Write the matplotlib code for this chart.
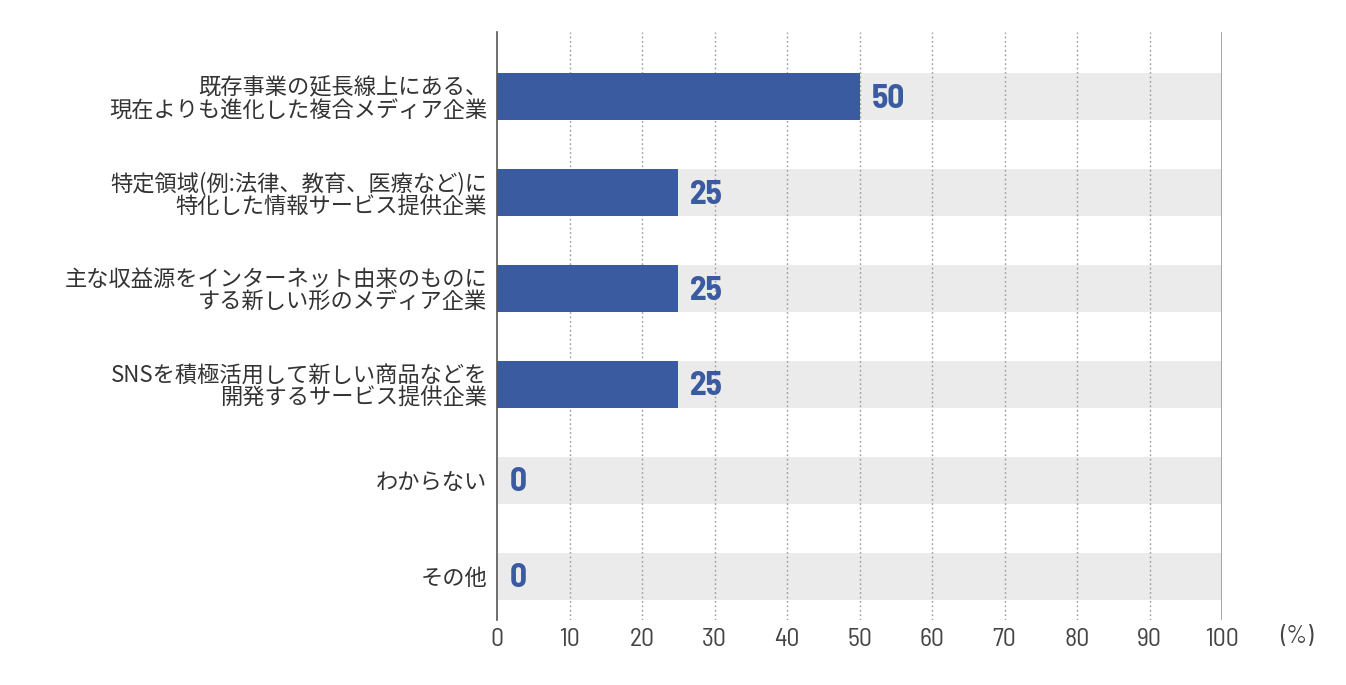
import matplotlib
matplotlib.use("Agg")
import matplotlib.pyplot as plt
from matplotlib import font_manager as fm

plt.rcParams['font.family'] = ['Noto Sans CJK JP', 'DejaVu Sans']

categories = [
    "既存事業の延長線上にある、\n現在よりも進化した複合メディア企業",
    "特定領域(例:法律、教育、医療など)に\n特化した情報サービス提供企業",
    "主な収益源をインターネット由来のものに\nする新しい形のメディア企業",
    "SNSを積極活用して新しい商品などを\n開発するサービス提供企業",
    "わからない",
    "その他",
]
values = [50, 25, 25, 25, 0, 0]
xticks = [0, 10, 20, 30, 40, 50, 60, 70, 80, 90, 100]

names = {f.name for f in fm.fontManager.ttflist}
narrow = 'DejaVu Sans'
for cand in ['Barlow Semi Condensed', 'Barlow Condensed', 'Roboto Condensed', 'Fira Sans Condensed']:
    if cand in names:
        narrow = cand
        break
num_fp = fm.FontProperties(family=narrow, size=18.5)
val_fp = fm.FontProperties(family=narrow, weight='bold', size=24)

W, H = 1346, 685
fig = plt.figure(figsize=(W / 100, H / 100), dpi=100)
ax = fig.add_axes([497 / W, 1 - 620 / H, (1222 - 497) / W, (620 - 32) / H])

bar_color = '#3b5ba1'
bg_color = '#ebebeb'
pos = list(range(len(categories)))
bh = 0.49

ax.barh(pos, [100] * len(pos), height=bh, color=bg_color, zorder=1)
ax.barh(pos, values, height=bh, color=bar_color, zorder=3)

for p, v in zip(pos, values):
    ax.annotate(str(v), (v, p), xytext=(12 if v > 0 else 13, -2), textcoords='offset pixels',
                ha='left', va='center', fontproperties=val_fp,
                color=bar_color, zorder=4)

ax.set_xlim(0, 100)
ax.set_ylim(5 + 44 / 96, -65 / 96)
ax.set_xticks(xticks)
ax.set_xticklabels([str(t) for t in xticks], fontproperties=num_fp, color='#444444')
ax.set_yticks(pos)
ax.set_yticklabels(categories, fontsize=16, color='#333333', linespacing=1.0)

for t in xticks[1:-1]:
    ax.axvline(t, color='#999999', linestyle=(0, (1.2, 2)), linewidth=1, zorder=2)
ax.axvline(100, color='#999999', linewidth=1.2, zorder=2)

for s in ['top', 'right', 'bottom']:
    ax.spines[s].set_visible(False)
ax.spines['left'].set_color('#555555')
ax.spines['left'].set_linewidth(1.2)
ax.spines['left'].set_zorder(5)
ax.tick_params(axis='both', length=0)
ax.tick_params(axis='y', pad=7)
ax.tick_params(axis='x', pad=6)

fig.text(1297 / W, 1 - 637 / H, "(%)", ha='center', va='center', fontproperties=num_fp,
         color='#444444')

fig.savefig('out.png', dpi=100)
